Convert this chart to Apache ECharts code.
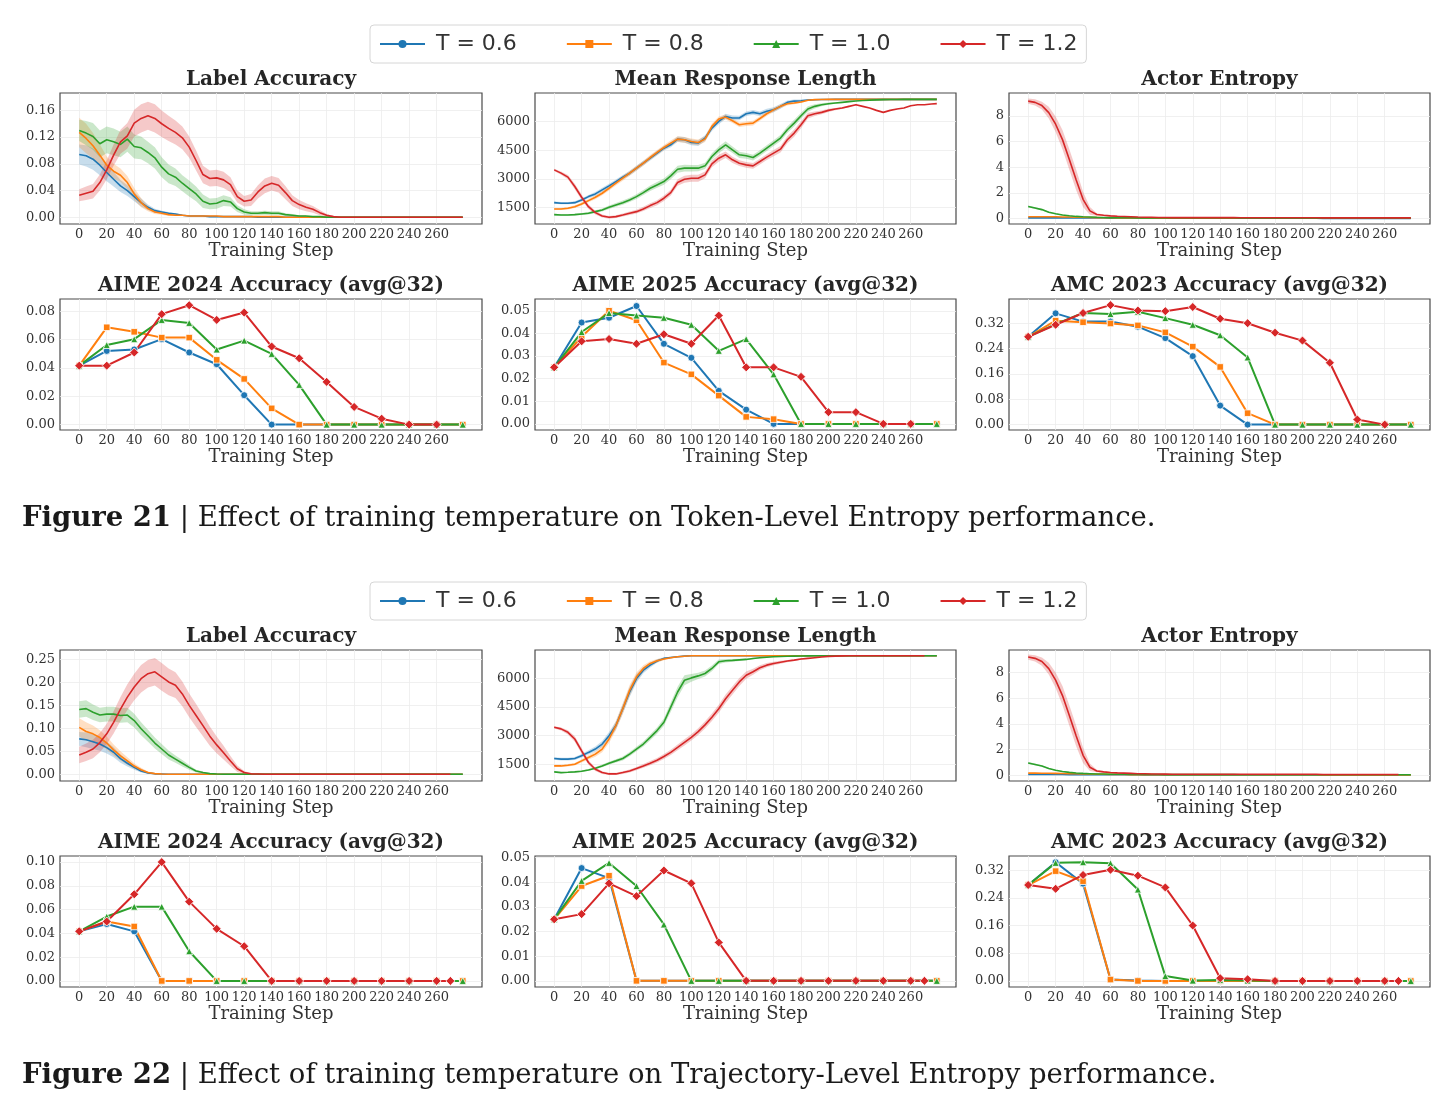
<!DOCTYPE html>
<html>
<head>
<meta charset="utf-8" />
<script src="https://cdn.jsdelivr.net/npm/echarts@6/dist/echarts.min.js"></script>
<style>
  html, body { margin: 0; padding: 0; background: #fff; }
  #chart { width: 1454px; height: 1110px; }
</style>
</head>
<body>
<div id="chart"></div>
<script>
// legend names, one per training temperature
const names = ["T = 0.6", "T = 0.8", "T = 1.0", "T = 1.2"];

// x positions
const denseSteps = [
  0, 5, 10, 15, 20, 25, 30, 35, 40, 45,
  50, 55, 60, 65, 70, 75, 80, 85, 90, 95,
  100, 105, 110, 115, 120, 125, 130, 135, 140, 145,
  150, 155, 160, 165, 170, 175, 180, 185, 190, 195,
  200, 205, 210, 215, 220, 225, 230, 235, 240, 245,
  250, 255, 260, 265, 270, 275, 279,
];
const evalSteps = [0, 20, 40, 60, 80, 100, 120, 140, 160, 180, 200, 220, 240, 260, 279];
const evalStepsF22Red = [0, 20, 40, 60, 80, 100, 120, 140, 160, 180, 200, 220, 240, 260, 270];

// tick labels
const xTickSteps = [0, 20, 40, 60, 80, 100, 120, 140, 160, 180, 200, 220, 240, 260];
const f21LaTicks = [0, 0.04, 0.08, 0.12, 0.16];
const f22LaTicks = [0, 0.05, 0.1, 0.15, 0.2, 0.25];
const rlTicks = [1500, 3000, 4500, 6000];
const entropyTicks = [0, 2, 4, 6, 8];
const f21Aime24Ticks = [0, 0.02, 0.04, 0.06, 0.08];
const f22Aime24Ticks = [0, 0.02, 0.04, 0.06, 0.08, 0.1];
const aime25Ticks = [0, 0.01, 0.02, 0.03, 0.04, 0.05];
const amcTicks = [0, 0.08, 0.16, 0.24, 0.32];

// ---------- Figure 21 : Token-Level Entropy ----------
// Label Accuracy (mean, band half width)
const f21LaT06 = [
  0.094, 0.092, 0.087, 0.078, 0.067, 0.057, 0.047, 0.040, 0.031, 0.022,
  0.015, 0.010, 0.008, 0.006, 0.005, 0.003, 0.002, 0.002, 0.002, 0.001,
  0.001, 0.001, 0.001, 0.001, 0.001, 0.001, 0, 0, 0, 0,
  0, 0, 0, 0, 0, 0, 0, 0, 0, 0,
  0, 0, 0, 0, 0, 0, 0, 0, 0, 0,
  0, 0, 0, 0, 0, 0, 0,
];
const f21LaT06Band = [0.015, 0.016, 0.016, 0.015, 0.013, 0.011, 0.009, 0.008, 0.007, 0.006, 0.004, 0.003, 0.002, 0.002, 0.001, 0.001];
const f21LaT08 = [
  0.127, 0.118, 0.107, 0.093, 0.078, 0.069, 0.063, 0.052, 0.035, 0.022,
  0.013, 0.008, 0.006, 0.004, 0.003, 0.003, 0.002, 0.002, 0.002, 0.002,
  0.002, 0.001, 0.001, 0.001, 0.001, 0.001, 0.001, 0.001, 0.001, 0.001,
  0, 0, 0, 0, 0, 0, 0, 0, 0, 0,
  0, 0, 0, 0, 0, 0, 0, 0, 0, 0,
  0, 0, 0, 0, 0, 0, 0,
];
const f21LaT08Band = [0.022, 0.022, 0.019, 0.016, 0.013, 0.011, 0.010, 0.010, 0.009, 0.007, 0.004, 0.003, 0.002, 0.002, 0.001, 0.001];
const f21LaT10 = [
  0.130, 0.126, 0.121, 0.110, 0.116, 0.113, 0.109, 0.117, 0.106, 0.104,
  0.097, 0.089, 0.075, 0.065, 0.060, 0.051, 0.043, 0.035, 0.024, 0.020,
  0.021, 0.025, 0.023, 0.013, 0.008, 0.006, 0.006, 0.007, 0.006, 0.006,
  0.004, 0.003, 0.002, 0.002, 0.001, 0.001, 0, 0, 0, 0,
  0, 0, 0, 0, 0, 0, 0, 0, 0, 0,
  0, 0, 0, 0, 0, 0, 0,
];
const f21LaT10Band = [
  0.016, 0.018, 0.020, 0.020, 0.020, 0.020, 0.019, 0.019, 0.018, 0.017,
  0.016, 0.016, 0.015, 0.014, 0.013, 0.012, 0.012, 0.011, 0.010, 0.008,
  0.008, 0.008, 0.007, 0.005, 0.004, 0.003, 0.003, 0.003, 0.003, 0.003,
  0.002, 0.002, 0.001, 0.001,
];
const f21LaT12 = [
  0.033, 0.036, 0.039, 0.052, 0.071, 0.093, 0.113, 0.122, 0.141, 0.148,
  0.152, 0.148, 0.140, 0.133, 0.127, 0.119, 0.105, 0.085, 0.064, 0.058,
  0.059, 0.056, 0.049, 0.031, 0.024, 0.026, 0.038, 0.047, 0.051, 0.048,
  0.037, 0.025, 0.019, 0.015, 0.012, 0.007, 0.003, 0.001, 0, 0,
  0, 0, 0, 0, 0, 0, 0, 0, 0, 0,
  0, 0, 0, 0, 0, 0, 0,
];
const f21LaT12Band = [
  0.009, 0.010, 0.011, 0.012, 0.014, 0.016, 0.018, 0.019, 0.020, 0.021,
  0.021, 0.021, 0.020, 0.019, 0.018, 0.017, 0.016, 0.015, 0.013, 0.012,
  0.012, 0.012, 0.011, 0.009, 0.008, 0.009, 0.010, 0.011, 0.011, 0.011,
  0.010, 0.008, 0.007, 0.006, 0.005, 0.004, 0.002, 0.001,
];

// Mean Response Length
const f21RlT06 = [
  1760, 1730, 1730, 1760, 1900, 2075, 2215, 2425, 2635, 2860,
  3085, 3295, 3560, 3820, 4080, 4345, 4600, 4780, 5075, 5040,
  4900, 4870, 5130, 5650, 6000, 6260, 6175, 6175, 6400, 6470,
  6400, 6525, 6610, 6785, 6995, 7060, 7080, 7115, 7130, 7140,
  7145, 7150, 7150, 7150, 7150, 7150, 7150, 7150, 7150, 7150,
  7150, 7150, 7150, 7150, 7150, 7150, 7150,
];
const f21RlT06Band = [
  60, 60, 60, 70, 80, 90, 100, 110, 110, 110, 120, 120, 120, 120, 120, 120, 120, 130, 140, 150,
  150, 150, 150, 150, 150, 140, 130, 120, 120, 120, 120, 130, 130, 120, 100, 80, 60, 40, 20,
];
const f21RlT08 = [
  1430, 1430, 1465, 1550, 1690, 1865, 2040, 2250, 2510, 2775,
  3035, 3295, 3560, 3820, 4115, 4380, 4640, 4865, 5075, 5040,
  4955, 4900, 5075, 5740, 6120, 6225, 6035, 5825, 5880, 5910,
  6150, 6400, 6600, 6785, 6925, 6960, 7010, 7100, 7135, 7145,
  7150, 7150, 7150, 7150, 7150, 7150, 7150, 7150, 7150, 7150,
  7150, 7150, 7150, 7150, 7150, 7150, 7150,
];
const f21RlT08Band = [
  50, 50, 60, 70, 80, 90, 100, 110, 120, 120, 130, 130, 130, 130, 130, 130, 130, 140, 150, 150,
  150, 150, 150, 150, 140, 130, 120, 120, 120, 120, 120, 120, 110, 100, 90, 70, 50, 30, 20,
];
const f21RlT10 = [
  1135, 1115, 1115, 1135, 1170, 1205, 1290, 1380, 1515, 1640,
  1760, 1900, 2075, 2285, 2510, 2685, 2860, 3155, 3505, 3560,
  3560, 3560, 3680, 4170, 4515, 4780, 4515, 4255, 4205, 4115,
  4345, 4605, 4865, 5130, 5565, 5910, 6295, 6645, 6785, 6870,
  6925, 6960, 6995, 7030, 7065, 7090, 7110, 7125, 7135, 7140,
  7145, 7150, 7150, 7150, 7150, 7150, 7150,
];
const f21RlT10Band = [
  40, 40, 40, 40, 50, 60, 70, 80, 90, 100, 110, 110, 120, 130, 140, 150, 160, 170, 180, 180,
  170, 160, 160, 170, 180, 180, 170, 160, 150, 150, 150, 150, 150, 160, 170, 170, 160, 140, 110, 80,
  60, 40, 30, 20,
];
const f21RlT12 = [
  3470, 3300, 3090, 2600, 2040, 1550, 1240, 1065, 995, 1030,
  1115, 1205, 1290, 1430, 1605, 1760, 1990, 2285, 2810, 2980,
  3035, 3035, 3210, 3785, 4080, 4255, 3995, 3820, 3730, 3680,
  3905, 4135, 4345, 4550, 5040, 5390, 5825, 6295, 6400, 6470,
  6575, 6645, 6700, 6785, 6870, 6785, 6700, 6575, 6470, 6575,
  6645, 6700, 6820, 6870, 6870, 6905, 6925,
];
const f21RlT12Band = [
  60, 80, 110, 140, 140, 120, 100, 80, 70, 70, 80, 90, 100, 110, 120, 130, 140, 150, 170, 180,
  180, 180, 180, 180, 180, 170, 160, 150, 150, 150, 150, 150, 160, 170, 180, 190, 180, 150, 120, 100,
  80, 60, 50, 40,
];

// Actor Entropy
const f21EnT06 = [
  0.06, 0.06, 0.06, 0.06, 0.06, 0.055, 0.055, 0.05, 0.05, 0.05,
  0.045, 0.045, 0.04, 0.04, 0.04, 0.035, 0.035, 0.035, 0.03, 0.03,
  0.03, 0.03, 0.03, 0.03, 0.03, 0.03, 0.03, 0.03, 0.03, 0.03,
  0.03, 0.025, 0.025, 0.025, 0.025, 0.025, 0.025, 0.025, 0.025, 0.025,
  0.025, 0.025, 0.025, 0.02, 0.02, 0.02, 0.02, 0.02, 0.02, 0.02,
  0.02, 0.02, 0.02, 0.02, 0.02, 0.02, 0.02,
];
const f21EnT08 = [
  0.15, 0.15, 0.15, 0.14, 0.14, 0.13, 0.12, 0.11, 0.10, 0.09,
  0.08, 0.07, 0.065, 0.06, 0.055, 0.05, 0.05, 0.045, 0.045, 0.04,
  0.04, 0.04, 0.04, 0.04, 0.04, 0.04, 0.04, 0.04, 0.04, 0.04,
  0.04, 0.035, 0.035, 0.035, 0.035, 0.035, 0.035, 0.035, 0.035, 0.035,
  0.035, 0.035, 0.035, 0.03, 0.03, 0.03, 0.03, 0.03, 0.03, 0.03,
  0.03, 0.03, 0.03, 0.03, 0.03, 0.03, 0.03,
];
const f21EnT10 = [
  0.94, 0.82, 0.70, 0.50, 0.38, 0.28, 0.22, 0.17, 0.14, 0.12,
  0.10, 0.09, 0.08, 0.075, 0.07, 0.065, 0.06, 0.06, 0.055, 0.055,
  0.05, 0.05, 0.05, 0.05, 0.05, 0.05, 0.05, 0.05, 0.05, 0.05,
  0.05, 0.04, 0.04, 0.04, 0.04, 0.04, 0.04, 0.04, 0.04, 0.04,
  0.04, 0.04, 0.04, 0.035, 0.035, 0.035, 0.035, 0.035, 0.035, 0.035,
  0.035, 0.035, 0.035, 0.035, 0.035, 0.035, 0.035,
];
const f21EnT10Band = [0.08, 0.07, 0.06, 0.05, 0.04, 0.03, 0.02];
const f21EnT12 = [
  9.15, 9.05, 8.80, 8.25, 7.35, 6.15, 4.60, 3.00, 1.50, 0.60,
  0.32, 0.26, 0.21, 0.18, 0.16, 0.14, 0.12, 0.11, 0.10, 0.09,
  0.085, 0.08, 0.08, 0.08, 0.08, 0.08, 0.08, 0.08, 0.08, 0.08,
  0.08, 0.07, 0.07, 0.07, 0.07, 0.07, 0.07, 0.07, 0.07, 0.07,
  0.07, 0.07, 0.07, 0.06, 0.06, 0.06, 0.06, 0.06, 0.06, 0.06,
  0.06, 0.06, 0.06, 0.06, 0.06, 0.06, 0.06,
];
const f21EnT12Band = [0.20, 0.25, 0.30, 0.45, 0.60, 0.75, 0.80, 0.80, 0.60, 0.30, 0.10, 0.06, 0.05, 0.04, 0.03];

// AIME 2024 / AIME 2025 / AMC 2023 (avg@32)
const f21Aime24T06 = [0.0417, 0.0521, 0.0531, 0.0604, 0.0510, 0.0427, 0.0208, 0, 0, 0, 0, 0, 0, 0, 0];
const f21Aime24T08 = [0.0417, 0.0688, 0.0656, 0.0615, 0.0615, 0.0458, 0.0323, 0.0115, 0, 0, 0, 0, 0, 0, 0];
const f21Aime24T10 = [0.0417, 0.0563, 0.0604, 0.0740, 0.0719, 0.0531, 0.0594, 0.0500, 0.0281, 0, 0, 0, 0, 0, 0];
const f21Aime24T12 = [0.0417, 0.0417, 0.0510, 0.0781, 0.0844, 0.0740, 0.0792, 0.0552, 0.0469, 0.0302, 0.0125, 0.0042, 0, 0];

const f21Aime25T06 = [0.0250, 0.0448, 0.0469, 0.0521, 0.0354, 0.0292, 0.0146, 0.0063, 0, 0, 0, 0, 0, 0, 0];
const f21Aime25T08 = [0.0250, 0.0385, 0.0500, 0.0458, 0.0271, 0.0219, 0.0125, 0.0031, 0.0021, 0, 0, 0, 0, 0, 0];
const f21Aime25T10 = [0.0250, 0.0406, 0.0490, 0.0479, 0.0469, 0.0438, 0.0323, 0.0375, 0.0219, 0, 0, 0, 0, 0, 0];
const f21Aime25T12 = [0.0250, 0.0365, 0.0375, 0.0354, 0.0396, 0.0354, 0.0479, 0.0250, 0.0250, 0.0208, 0.0052, 0.0052, 0, 0];

const f21AmcT06 = [0.277, 0.351, 0.325, 0.325, 0.309, 0.273, 0.216, 0.060, 0, 0, 0, 0, 0, 0, 0];
const f21AmcT08 = [0.277, 0.328, 0.323, 0.319, 0.313, 0.291, 0.246, 0.182, 0.036, 0, 0, 0, 0, 0, 0];
const f21AmcT10 = [0.277, 0.317, 0.352, 0.349, 0.356, 0.336, 0.315, 0.282, 0.212, 0, 0, 0, 0, 0, 0];
const f21AmcT12 = [0.277, 0.315, 0.352, 0.377, 0.360, 0.358, 0.371, 0.334, 0.320, 0.290, 0.265, 0.195, 0.016, 0];

// ---------- Figure 22 : Trajectory-Level Entropy ----------
const f22LaT06 = [
  0.077, 0.075, 0.071, 0.066, 0.058, 0.048, 0.034, 0.024, 0.015, 0.007,
  0.003, 0.001, 0.0005, 0, 0, 0, 0, 0, 0, 0,
  0, 0, 0, 0, 0, 0, 0, 0, 0, 0,
  0, 0, 0, 0, 0, 0, 0, 0, 0, 0,
  0, 0, 0, 0, 0, 0, 0, 0, 0, 0,
  0, 0, 0, 0, 0, 0, 0,
];
const f22LaT06Band = [0.015, 0.016, 0.016, 0.015, 0.013, 0.011, 0.009, 0.007, 0.005, 0.003, 0.002, 0.001];
const f22LaT08 = [
  0.102, 0.093, 0.088, 0.080, 0.068, 0.053, 0.040, 0.029, 0.018, 0.010,
  0.004, 0.0015, 0.0005, 0, 0, 0, 0, 0, 0, 0,
  0, 0, 0, 0, 0, 0, 0, 0, 0, 0,
  0, 0, 0, 0, 0, 0, 0, 0, 0, 0,
  0, 0, 0, 0, 0, 0, 0, 0, 0, 0,
  0, 0, 0, 0, 0, 0, 0,
];
const f22LaT08Band = [0.020, 0.020, 0.018, 0.016, 0.014, 0.012, 0.010, 0.008, 0.006, 0.004, 0.002, 0.001];
const f22LaT10 = [
  0.141, 0.143, 0.135, 0.129, 0.131, 0.131, 0.128, 0.129, 0.117, 0.099,
  0.084, 0.068, 0.055, 0.042, 0.033, 0.024, 0.015, 0.007, 0.004, 0.0015,
  0.0005, 0, 0, 0, 0, 0, 0, 0, 0, 0,
  0, 0, 0, 0, 0, 0, 0, 0, 0, 0,
  0, 0, 0, 0, 0, 0, 0, 0, 0, 0,
  0, 0, 0, 0, 0, 0, 0,
];
const f22LaT10Band = [
  0.018, 0.018, 0.017, 0.016, 0.016, 0.016, 0.016, 0.016, 0.015, 0.014,
  0.013, 0.012, 0.011, 0.010, 0.008, 0.007, 0.005, 0.003, 0.002, 0.001,
];
const f22LaT12 = [
  0.042, 0.048, 0.055, 0.069, 0.088, 0.113, 0.142, 0.168, 0.190, 0.208,
  0.219, 0.223, 0.212, 0.201, 0.194, 0.175, 0.150, 0.128, 0.106, 0.083,
  0.064, 0.047, 0.029, 0.012, 0.004, 0.001, 0.0005, 0, 0, 0,
  0, 0, 0, 0, 0, 0, 0, 0, 0, 0,
  0, 0, 0, 0, 0, 0, 0, 0, 0, 0,
  0, 0, 0, 0, 0,
];
const f22LaT12Band = [
  0.018, 0.019, 0.020, 0.021, 0.022, 0.024, 0.026, 0.028, 0.029, 0.030,
  0.030, 0.030, 0.030, 0.029, 0.028, 0.027, 0.026, 0.025, 0.023, 0.021,
  0.018, 0.015, 0.011, 0.007, 0.003, 0.001,
];

const f22RlT06 = [
  1800, 1765, 1765, 1800, 1940, 2120, 2295, 2560, 3000, 3530,
  4410, 5295, 6000, 6440, 6705, 6920, 7060, 7110, 7145, 7180,
  7195, 7200, 7200, 7200, 7200, 7200, 7200, 7200, 7200, 7200,
  7200, 7200, 7200, 7200, 7200, 7200, 7200, 7200, 7200, 7200,
  7200, 7200, 7200, 7200, 7200, 7200, 7200, 7200, 7200, 7200,
  7200, 7200, 7200, 7200, 7200, 7200, 7200,
];
const f22RlT06Band = [70, 70, 70, 80, 90, 110, 130, 160, 190, 220, 250, 260, 220, 160, 120, 90, 60, 40, 30, 20];
const f22RlT08 = [
  1410, 1410, 1445, 1500, 1675, 1855, 2030, 2295, 2825, 3530,
  4410, 5380, 6090, 6530, 6795, 6935, 7025, 7090, 7145, 7175,
  7195, 7200, 7200, 7200, 7200, 7200, 7200, 7200, 7200, 7200,
  7200, 7200, 7200, 7200, 7200, 7200, 7200, 7200, 7200, 7200,
  7200, 7200, 7200, 7200, 7200, 7200, 7200, 7200, 7200, 7200,
  7200, 7200, 7200, 7200, 7200, 7200, 7200,
];
const f22RlT08Band = [60, 60, 60, 70, 90, 110, 140, 170, 210, 250, 280, 280, 230, 170, 120, 90, 60, 40, 30, 20];
const f22RlT10 = [
  1095, 1060, 1075, 1095, 1130, 1200, 1290, 1410, 1555, 1675,
  1800, 2030, 2295, 2560, 2910, 3265, 3705, 4500, 5295, 5910,
  6035, 6140, 6265, 6530, 6880, 6935, 6955, 6980, 7005, 7050,
  7095, 7120, 7145, 7160, 7170, 7180, 7185, 7190, 7195, 7198,
  7200, 7200, 7200, 7200, 7200, 7200, 7200, 7200, 7200, 7200,
  7200, 7200, 7200, 7200, 7200, 7200, 7200,
];
const f22RlT10Band = [
  30, 30, 30, 30, 40, 50, 60, 70, 80, 90, 100, 110, 120, 130, 150, 170, 190, 240, 280, 260,
  200, 170, 160, 150, 120, 90, 70, 60, 50, 40, 30, 20,
];
const f22RlT12 = [
  3440, 3355, 3175, 2825, 2205, 1590, 1235, 1060, 990, 990,
  1060, 1145, 1270, 1410, 1555, 1710, 1905, 2120, 2380, 2645,
  2910, 3210, 3565, 3970, 4410, 4940, 5380, 5825, 6175, 6355,
  6565, 6705, 6795, 6860, 6920, 6970, 7025, 7060, 7095, 7130,
  7165, 7180, 7190, 7195, 7200, 7200, 7200, 7200, 7200, 7200,
  7200, 7200, 7200, 7200, 7200,
];
const f22RlT12Band = [
  60, 80, 110, 140, 150, 120, 90, 70, 60, 60, 70, 80, 90, 100, 110, 120, 130, 140, 150, 160,
  170, 180, 190, 200, 210, 220, 220, 210, 190, 160, 130, 110, 90, 80, 60, 50, 40, 30,
];

const f22EnT06 = [
  0.06, 0.06, 0.06, 0.06, 0.055, 0.055, 0.05, 0.05, 0.05, 0.045,
  0.045, 0.04, 0.04, 0.04, 0.035, 0.035, 0.035, 0.03, 0.03, 0.03,
  0.03, 0.03, 0.03, 0.03, 0.03, 0.03, 0.03, 0.03, 0.03, 0.03,
  0.03, 0.025, 0.025, 0.025, 0.025, 0.025, 0.025, 0.025, 0.025, 0.025,
  0.025, 0.025, 0.025, 0.02, 0.02, 0.02, 0.02, 0.02, 0.02, 0.02,
  0.02, 0.02, 0.02, 0.02, 0.02, 0.02, 0.02,
];
const f22EnT08 = [
  0.16, 0.16, 0.15, 0.15, 0.14, 0.13, 0.12, 0.11, 0.10, 0.09,
  0.08, 0.07, 0.065, 0.06, 0.055, 0.05, 0.05, 0.045, 0.045, 0.04,
  0.04, 0.04, 0.04, 0.04, 0.04, 0.04, 0.04, 0.04, 0.04, 0.04,
  0.04, 0.035, 0.035, 0.035, 0.035, 0.035, 0.035, 0.035, 0.035, 0.035,
  0.035, 0.035, 0.035, 0.03, 0.03, 0.03, 0.03, 0.03, 0.03, 0.03,
  0.03, 0.03, 0.03, 0.03, 0.03, 0.03, 0.03,
];
const f22EnT10 = [
  0.95, 0.84, 0.72, 0.52, 0.39, 0.29, 0.22, 0.17, 0.14, 0.12,
  0.10, 0.09, 0.08, 0.075, 0.07, 0.065, 0.06, 0.06, 0.055, 0.055,
  0.05, 0.05, 0.05, 0.05, 0.05, 0.05, 0.05, 0.05, 0.05, 0.05,
  0.05, 0.04, 0.04, 0.04, 0.04, 0.04, 0.04, 0.04, 0.04, 0.04,
  0.04, 0.04, 0.04, 0.035, 0.035, 0.035, 0.035, 0.035, 0.035, 0.035,
  0.035, 0.035, 0.035, 0.035, 0.035, 0.035, 0.035,
];
const f22EnT10Band = [0.08, 0.07, 0.06, 0.05, 0.04, 0.03, 0.02];
const f22EnT12 = [
  9.20, 9.10, 8.85, 8.30, 7.40, 6.20, 4.65, 3.05, 1.55, 0.62,
  0.33, 0.26, 0.21, 0.18, 0.16, 0.14, 0.12, 0.11, 0.10, 0.09,
  0.085, 0.08, 0.08, 0.08, 0.08, 0.08, 0.08, 0.08, 0.08, 0.08,
  0.08, 0.07, 0.07, 0.07, 0.07, 0.07, 0.07, 0.07, 0.07, 0.07,
  0.07, 0.07, 0.07, 0.06, 0.06, 0.06, 0.06, 0.06, 0.06, 0.06,
  0.06, 0.06, 0.06, 0.06, 0.06,
];
const f22EnT12Band = [0.20, 0.25, 0.32, 0.45, 0.60, 0.75, 0.80, 0.80, 0.60, 0.30, 0.10, 0.06, 0.05, 0.04, 0.03];

const f22Aime24T06 = [0.0417, 0.0479, 0.0417, 0, 0, 0, 0, 0, 0, 0, 0, 0, 0, 0, 0];
const f22Aime24T08 = [0.0417, 0.0500, 0.0458, 0, 0, 0, 0, 0, 0, 0, 0, 0, 0, 0, 0];
const f22Aime24T10 = [0.0417, 0.0542, 0.0625, 0.0625, 0.0250, 0, 0, 0, 0, 0, 0, 0, 0, 0, 0];
const f22Aime24T12 = [0.0417, 0.0500, 0.0729, 0.1000, 0.0667, 0.0438, 0.0292, 0, 0, 0, 0, 0, 0, 0, 0];

const f22Aime25T06 = [0.0250, 0.0458, 0.0417, 0, 0, 0, 0, 0, 0, 0, 0, 0, 0, 0, 0];
const f22Aime25T08 = [0.0250, 0.0385, 0.0427, 0, 0, 0, 0, 0, 0, 0, 0, 0, 0, 0, 0];
const f22Aime25T10 = [0.0250, 0.0406, 0.0479, 0.0385, 0.0229, 0, 0, 0, 0, 0, 0, 0, 0, 0, 0];
const f22Aime25T12 = [0.0250, 0.0271, 0.0396, 0.0344, 0.0448, 0.0396, 0.0156, 0, 0, 0, 0, 0, 0, 0, 0];

const f22AmcT06 = [0.277, 0.343, 0.281, 0.004, 0.001, 0, 0, 0, 0, 0, 0, 0, 0, 0, 0];
const f22AmcT08 = [0.277, 0.317, 0.288, 0.004, 0, 0, 0, 0, 0, 0, 0, 0, 0, 0, 0];
const f22AmcT10 = [0.277, 0.341, 0.343, 0.340, 0.264, 0.014, 0.001, 0.003, 0.001, 0, 0, 0, 0, 0, 0];
const f22AmcT12 = [0.277, 0.266, 0.306, 0.321, 0.304, 0.270, 0.160, 0.008, 0.005, 0, 0, 0, 0, 0, 0];

// ---------- styling / layout ----------
const colors = ["#1f77b4", "#ff7f0e", "#2ca02c", "#d62728"];
const markers = ["circle", "rect", "triangle", "diamond"];
const markerSizes = [7, 6.5, 7, 9];
const serif = "DejaVu Serif";
const gridCols = [
  { left: 60, width: 422 },
  { left: 535, width: 421 },
  { left: 1009, width: 421 },
];
const rowTops = [93, 299, 650, 856];
const plotHeight = 131;
const dense4 = [denseSteps, denseSteps, denseSteps, denseSteps];
const eval4 = [evalSteps, evalSteps, evalSteps, evalSteps];

const panels = [
  // figure 21
  { row: 0, col: 0, title: "Label Accuracy", y: [-0.01, 0.186], ticks: f21LaTicks, digits: 2, steps: dense4,
    values: [f21LaT06, f21LaT08, f21LaT10, f21LaT12], bands: [f21LaT06Band, f21LaT08Band, f21LaT10Band, f21LaT12Band] },
  { row: 0, col: 1, title: "Mean Response Length", y: [645, 7482], ticks: rlTicks, digits: 0, steps: dense4,
    values: [f21RlT06, f21RlT08, f21RlT10, f21RlT12], bands: [f21RlT06Band, f21RlT08Band, f21RlT10Band, f21RlT12Band] },
  { row: 0, col: 2, title: "Actor Entropy", y: [-0.42, 9.78], ticks: entropyTicks, digits: 0, steps: dense4,
    values: [f21EnT06, f21EnT08, f21EnT10, f21EnT12], bands: [[], [], f21EnT10Band, f21EnT12Band] },
  { row: 1, col: 0, title: "AIME 2024 Accuracy (avg@32)", y: [-0.0038, 0.0888], ticks: f21Aime24Ticks, digits: 2, steps: eval4,
    values: [f21Aime24T06, f21Aime24T08, f21Aime24T10, f21Aime24T12], marks: true },
  { row: 1, col: 1, title: "AIME 2025 Accuracy (avg@32)", y: [-0.0027, 0.0552], ticks: aime25Ticks, digits: 2, steps: eval4,
    values: [f21Aime25T06, f21Aime25T08, f21Aime25T10, f21Aime25T12], marks: true },
  { row: 1, col: 2, title: "AMC 2023 Accuracy (avg@32)", y: [-0.017, 0.3963], ticks: amcTicks, digits: 2, steps: eval4,
    values: [f21AmcT06, f21AmcT08, f21AmcT10, f21AmcT12], marks: true },
  // figure 22
  { row: 2, col: 0, title: "Label Accuracy", y: [-0.0146, 0.2705], ticks: f22LaTicks, digits: 2, steps: dense4,
    values: [f22LaT06, f22LaT08, f22LaT10, f22LaT12], bands: [f22LaT06Band, f22LaT08Band, f22LaT10Band, f22LaT12Band] },
  { row: 2, col: 1, title: "Mean Response Length", y: [618, 7500], ticks: rlTicks, digits: 0, steps: dense4,
    values: [f22RlT06, f22RlT08, f22RlT10, f22RlT12], bands: [f22RlT06Band, f22RlT08Band, f22RlT10Band, f22RlT12Band] },
  { row: 2, col: 2, title: "Actor Entropy", y: [-0.45, 9.75], ticks: entropyTicks, digits: 0, steps: dense4,
    values: [f22EnT06, f22EnT08, f22EnT10, f22EnT12], bands: [[], [], f22EnT10Band, f22EnT12Band] },
  { row: 3, col: 0, title: "AIME 2024 Accuracy (avg@32)", y: [-0.0051, 0.1051], ticks: f22Aime24Ticks, digits: 2,
    steps: [evalSteps, evalSteps, evalSteps, evalStepsF22Red],
    values: [f22Aime24T06, f22Aime24T08, f22Aime24T10, f22Aime24T12], marks: true },
  { row: 3, col: 1, title: "AIME 2025 Accuracy (avg@32)", y: [-0.0025, 0.0507], ticks: aime25Ticks, digits: 2,
    steps: [evalSteps, evalSteps, evalSteps, evalStepsF22Red],
    values: [f22Aime25T06, f22Aime25T08, f22Aime25T10, f22Aime25T12], marks: true },
  { row: 3, col: 2, title: "AMC 2023 Accuracy (avg@32)", y: [-0.0175, 0.3608], ticks: amcTicks, digits: 2,
    steps: [evalSteps, evalSteps, evalSteps, evalStepsF22Red],
    values: [f22AmcT06, f22AmcT08, f22AmcT10, f22AmcT12], marks: true },
];

const bandRender = (color) => (params, api) => {
  // draw the whole band once, from the first item
  if (params.dataIndexInside !== 0) return null;
  const upper = [];
  const lower = [];
  for (let j = 0; j < params.dataInsideLength; j++) {
    upper.push(api.coord([api.value(0, j), api.value(2, j)]));
    lower.push(api.coord([api.value(0, j), api.value(1, j)]));
  }
  return {
    type: "polygon",
    shape: { points: upper.concat(lower.reverse()) },
    style: { fill: color, opacity: 0.25 },
  };
};

const grid = [];
const xAxis = [];
const yAxis = [];
const series = [];
const graphic = [];

panels.forEach((p, i) => {
  const { left, width } = gridCols[p.col];
  const top = rowTops[p.row];
  grid.push({
    left, top, width, height: plotHeight,
    show: true, backgroundColor: "#fff", borderColor: "#4a4a4a", borderWidth: 1.2,
  });
  xAxis.push({
    gridIndex: i, type: "value", min: -14, max: 293,
    name: "Training Step", nameLocation: "middle", nameGap: 18,
    nameTextStyle: { fontFamily: serif, fontSize: 18, color: "#333" },
    axisLine: { show: false },
    axisTick: { show: false, customValues: xTickSteps },
    axisLabel: { customValues: xTickSteps, margin: 4, fontFamily: serif, fontSize: 13, color: "#333" },
    splitLine: { show: true, lineStyle: { color: "#ececec", width: 0.8 } },
  });
  yAxis.push({
    gridIndex: i, type: "value", min: p.y[0], max: p.y[1],
    axisLine: { show: false },
    axisTick: { show: false, customValues: p.ticks },
    axisLabel: {
      customValues: p.ticks, margin: 5, fontFamily: serif, fontSize: 13, color: "#333",
      formatter: (v) => Number(v).toFixed(p.digits),
    },
    splitLine: { show: true, lineStyle: { color: "#ececec", width: 0.8 } },
  });
  graphic.push({
    type: "text", x: left + width / 2, y: top - 13,
    style: {
      text: p.title, fill: "#262626", font: `bold 20px "${serif}"`,
      textAlign: "center", align: "center", textVerticalAlign: "middle", verticalAlign: "middle",
    },
  });

  p.values.forEach((vals, k) => {
    const steps = p.steps[k];
    const band = p.bands ? p.bands[k] : [];
    if (band.length) {
      series.push({
        type: "custom", name: names[k] + " band", xAxisIndex: i, yAxisIndex: i,
        silent: true, z: 1,
        data: band.map((s, j) => [steps[j], vals[j] - s, vals[j] + s]),
        encode: { x: 0, y: [1, 2] },
        renderItem: bandRender(colors[k]),
      });
    }
    series.push({
      type: "line", name: names[k], xAxisIndex: i, yAxisIndex: i,
      data: vals.map((v, j) => [steps[j], v]),
      symbol: markers[k], symbolSize: markerSizes[k], showSymbol: !!p.marks,
      lineStyle: { color: colors[k], width: p.marks ? 2 : 1.6 },
      itemStyle: p.marks
        ? { color: colors[k], borderColor: "#fff", borderWidth: 0.8 }
        : { color: colors[k] },
      z: 3, silent: true,
    });
  });
});

// figure captions
[
  { y: 519, num: "Figure 21", text: " | Effect of training temperature on Token-Level Entropy performance." },
  { y: 1076, num: "Figure 22", text: " | Effect of training temperature on Trajectory-Level Entropy performance." },
].forEach((c) => {
  graphic.push({
    type: "text", x: 22, y: c.y,
    style: {
      text: `{b|${c.num}}${c.text}`,
      fontFamily: serif, fontSize: 27.5, fill: "#1a1a1a",
      textVerticalAlign: "middle", verticalAlign: "middle",
      rich: { b: { fontFamily: serif, fontSize: 27.5, fontWeight: "bold", fill: "#1a1a1a" } },
    },
  });
});

const legendBase = {
  data: names, left: 370, orient: "horizontal",
  itemWidth: 45, itemHeight: 10, itemGap: 49,
  padding: [8, 9, 8, 9],
  backgroundColor: "#fff", borderColor: "#d6d6d6", borderWidth: 1, borderRadius: 4,
  selectedMode: false,
  textStyle: { fontFamily: "DejaVu Sans", fontSize: 22, color: "#333", padding: [0, 0, 0, 6] },
};

const chart = echarts.init(document.getElementById("chart"), null, { renderer: "canvas" });
chart.setOption({
  animation: false,
  backgroundColor: "#fff",
  legend: [
    { ...legendBase, top: 25 },
    { ...legendBase, top: 582 },
  ],
  grid,
  xAxis,
  yAxis,
  series,
  graphic,
});
</script>
</body>
</html>
